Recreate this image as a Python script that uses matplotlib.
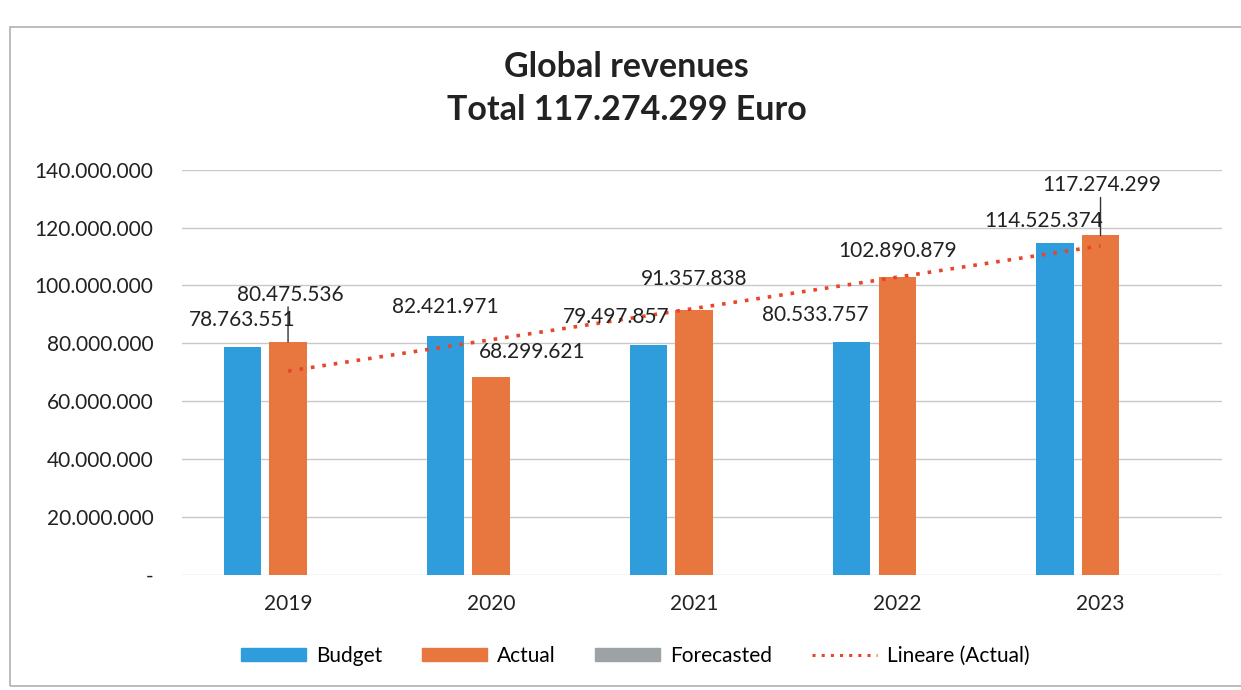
import numpy as np
import matplotlib.pyplot as plt
from matplotlib.patches import Rectangle, Patch
from matplotlib.lines import Line2D
from matplotlib.ticker import FuncFormatter

plt.rcParams['font.family'] = ['Lato', 'DejaVu Sans']

# Data
years = ['2019', '2020', '2021', '2022', '2023']
budget = [78763551, 82421971, 79497857, 80533757, 114525374]
actual = [80475536, 68299621, 91357838, 102890879, 117274299]
total_label = '117.274.299'

# label offsets (pixels) relative to the bar top, mimicking the Excel layout
budget_offsets = [(0, 27), (0, 29), (-32, 28), (-36, 27), (-11, 22)]
actual_offsets = [(2, 47), (41, 25), (0, 31), (0, 26), (1, 50)]

BLUE = '#2f9ddc'
ORANGE = '#e8773f'
GREY = '#9da3a4'
TREND = '#e8452a'


def dotted(n):
    # 80.475.536 style thousands separator
    return f'{n:,.0f}'.replace(',', '.')


fig = plt.figure(figsize=(12.41, 6.90), dpi=100)
ax = fig.add_axes([0.147, 0.167, 0.838, 0.587])

x = np.arange(len(years))
w = 0.185
gap = 0.04
ax.bar(x - w - gap, budget, width=w, color=BLUE, zorder=3)
ax.bar(x, actual, width=w, color=ORANGE, zorder=3)

# linear trendline of actual values
coef = np.polyfit(x, actual, 1)
ax.plot(x, np.polyval(coef, x), linestyle=(0, (1, 2.2)), color=TREND, lw=2.6, zorder=4)

for i in range(len(years)):
    dx, dy = budget_offsets[i]
    ax.annotate(dotted(budget[i]), xy=(x[i] - w - gap, budget[i]), xytext=(dx, dy),
                textcoords='offset pixels', ha='center', va='center', fontsize=15, color='#222222', zorder=6)
    dx, dy = actual_offsets[i]
    ax.annotate(dotted(actual[i]), xy=(x[i], actual[i]), xytext=(dx, dy),
                textcoords='offset pixels', ha='center', va='center', fontsize=15, color='#222222', zorder=6)

# leader lines for the two labels moved away from their bars
for i in [0, 4]:
    ax.annotate('', xy=(x[i], actual[i]), xytext=(0, actual_offsets[i][1] - 12),
                textcoords='offset pixels',
                arrowprops=dict(arrowstyle='-', color='#333333', lw=1, shrinkA=0, shrinkB=0))

ax.set_ylim(0, 140000000)
ax.set_xlim(-0.52, 4.6)
ax.set_yticks(np.arange(0, 140000001, 20000000))
ax.yaxis.set_major_formatter(FuncFormatter(lambda v, p: '-' if v == 0 else dotted(v)))
ax.set_xticks(x)
ax.set_xticklabels(years)
ax.tick_params(axis='both', length=0, labelsize=15, colors='#222222')
ax.tick_params(axis='y', pad=21)
ax.tick_params(axis='x', pad=14)
ax.grid(axis='y', color='#c8c8c8', lw=1, zorder=0)
for s in ax.spines.values():
    s.set_visible(False)

fig.text(0.505, 0.903, 'Global revenues', ha='center', va='center', fontsize=24.5, fontweight='bold', color='#222222')
fig.text(0.505, 0.841, 'Total ' + total_label + ' Euro', ha='center', va='center', fontsize=24.5,
         fontweight='bold', color='#222222')

handles = [Patch(color=BLUE), Patch(color=ORANGE), Patch(color=GREY),
           Line2D([0], [0], linestyle=(0, (1, 2)), color=TREND, lw=2.2)]
fig.legend(handles, ['Budget', 'Actual', 'Forecasted', 'Lineare (Actual)'], loc='center',
           bbox_to_anchor=(0.512, 0.05), ncol=4, frameon=False, fontsize=15,
           handlelength=3.1, handleheight=0.6, columnspacing=1.9, handletextpad=0.5)

# outer chart frame
fig.patches.append(Rectangle((10 / 1241, 4 / 690), 1.1, 659 / 690, transform=fig.transFigure,
                             fill=False, edgecolor='#b0b0b0', lw=1.2))

fig.savefig('out.png', dpi=100)
